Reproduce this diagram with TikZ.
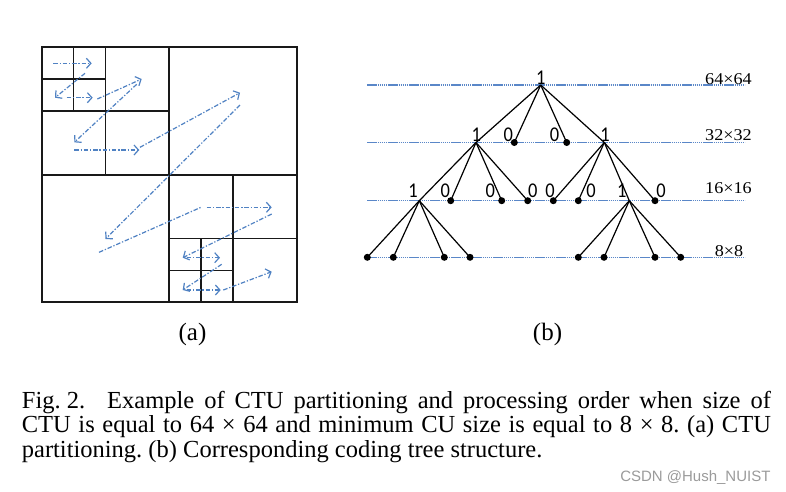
\documentclass[tikz,border=0pt]{standalone}
\usepackage{fontspec}
\setmainfont{Liberation Serif}
\newfontfamily\digfont[FakeStretch=0.88]{Carlito}
\newfontfamily\sizefont[FakeStretch=1.1]{Liberation Serif}
\newfontfamily\wmfont{Liberation Sans}
\usetikzlibrary{arrows.meta}
\definecolor{arrowblue}{RGB}{80,130,195}
\definecolor{lineblue}{RGB}{90,135,200}
\definecolor{wmgray}{RGB}{155,155,155}
\begin{document}
\begin{tikzpicture}[x=1pt,y=-1pt,
  part/.style={line width=1.7pt, black!90},
  orderline/.style={arrowblue, line width=1.2pt, dash pattern=on 4.5pt off 1.8pt on 1.3pt off 1.8pt},
  order/.style={orderline, -{Straight Barb[length=4.5pt,width=10pt,line width=1.2pt]}},
  levelline/.style={lineblue, line width=1.1pt, dash pattern=on 1.5pt off 0.6pt},
  edge/.style={line width=1.2pt, black},
  leaf/.style={circle, fill=black, inner sep=0pt, minimum size=7pt},
  split/.style={coordinate},
  dig/.style={font=\fontsize{21}{21}\digfont, anchor=base, inner sep=0pt},
  sizelab/.style={font=\fontsize{16.5}{16.5}\sizefont, anchor=base, inner sep=0pt},
  sublab/.style={font=\fontsize{25}{25}\selectfont, anchor=base, inner sep=0pt},
  capline/.style={font=\fontsize{24.5}{24.5}\selectfont\frenchspacing, anchor=base west, inner sep=0pt},
  wm/.style={font=\fontsize{15}{15}\wmfont, text=wmgray, anchor=base east, inner sep=0pt}
]
\useasboundingbox (0,0) rectangle (786,491);
\fill[white] (0,0) rectangle (786,491);

% ---------- (a) CTU partitioning ----------
\def\xo{41.7}\def\yo{47.3}\def\sz{255}
\draw[part] (\xo,\yo) rectangle ++(\sz,\sz);
\draw[part] (\xo+\sz/2,\yo) -- ++(0,\sz);
\draw[part] (\xo,\yo+\sz/2) -- ++(\sz,0);
% top-left quadrant split
\draw[part] (\xo+\sz/4,\yo) -- ++(0,\sz/2);
\draw[part] (\xo,\yo+\sz/4) -- ++(\sz/2,0);
\draw[part] (\xo+\sz/8,\yo) -- ++(0,\sz/4);
\draw[part] (\xo,\yo+\sz/8) -- ++(\sz/4,0);
% bottom-right quadrant split
\draw[part] (\xo+3*\sz/4,\yo+\sz/2) -- ++(0,\sz/2);
\draw[part] (\xo+\sz/2,\yo+3*\sz/4) -- ++(\sz/2,0);
\draw[part] (\xo+5*\sz/8,\yo+3*\sz/4) -- ++(0,\sz/4);
\draw[part] (\xo+\sz/2,\yo+7*\sz/8) -- ++(\sz/4,0);

% processing order arrows
\coordinate (a1s) at (53.3,63.3);   \coordinate (a1e) at (91.7,63.3);
\coordinate (a2s) at (85,73.3);     \coordinate (a2e) at (55,97.7);
\coordinate (a3s) at (66.7,97.7);   \coordinate (a3e) at (92.7,97.7);
\coordinate (a4s) at (97.3,99);     \coordinate (a4e) at (141.7,79);
\coordinate (a5s) at (136.7,84.3);  \coordinate (a5e) at (74.3,142.3);
\coordinate (a6s) at (74.3,150);    \coordinate (a6e) at (139.3,150);
\coordinate (a7s) at (140,147.3);   \coordinate (a7e) at (240,92.7);
\coordinate (a8s) at (240,105);     \coordinate (a8e) at (105.5,239);
\coordinate (a9s) at (99,252.3);    \coordinate (a9m) at (201,207.3);
\coordinate (a10s) at (206.7,207.3);\coordinate (a10e) at (271.7,207.3);
\coordinate (a11s) at (271.7,214);  \coordinate (a11e) at (182.7,257.7);
\coordinate (a12s) at (186.7,257.7);\coordinate (a12e) at (220,257.7);
\coordinate (a13s) at (221.7,264.3);\coordinate (a13e) at (182.7,290);
\coordinate (a14s) at (186.7,290);  \coordinate (a14e) at (220.7,290);
\coordinate (a15s) at (223.3,290);  \coordinate (a15e) at (271.7,271.7);
\foreach \p in {1,...,8,11,12,13,14,15}{\draw[order] (a\p s) -- (a\p e);}
\draw[orderline] (a9s) -- (a9m);
\draw[order] (a10s) -- (a10e);

\node[sublab] (la) at (192.5,340.5) {(a)};
\node[sublab] (lb) at (547.5,340.5) {(b)};

% ---------- (b) coding tree ----------
\foreach \y in {85,142.5,200.7,257.3}{\draw[levelline] (367,\y) -- (745,\y);}
\node[sizelab] (s1) at (728.5,84) {64×64};
\node[sizelab] (s2) at (728.5,140.7) {32×32};
\node[sizelab] (s3) at (728.5,193.3) {16×16};
\node[sizelab] (s4) at (729,256.7) {8×8};

\node[split] (r) at (540.7,85) {};
\node[split] (n1) at (476,142.5) {};
\node[leaf]  (n2) at (514.3,142.5) {};
\node[leaf]  (n3) at (566.7,142.5) {};
\node[split] (n4) at (604.3,142.5) {};
\node[split] (m1) at (419.3,200.7) {};
\node[leaf]  (m2) at (450.7,200.7) {};
\node[leaf]  (m3) at (501.7,200.7) {};
\node[leaf]  (m4) at (527.7,200.7) {};
\node[leaf]  (m5) at (553.3,200.7) {};
\node[leaf]  (m6) at (578.3,200.7) {};
\node[split] (m7) at (629.3,200.7) {};
\node[leaf]  (m8) at (655,200.7) {};
\node[leaf]  (k1) at (367.3,257.3) {};
\node[leaf]  (k2) at (393.3,257.3) {};
\node[leaf]  (k3) at (444.3,257.3) {};
\node[leaf]  (k4) at (470,257.3) {};
\node[leaf]  (k5) at (578.3,257.3) {};
\node[leaf]  (k6) at (604,257.3) {};
\node[leaf]  (k7) at (655,257.3) {};
\node[leaf]  (k8) at (680.7,257.3) {};

\foreach \c in {n1,n2,n3,n4}{\draw[edge] (r) -- (\c.center);}
\foreach \c in {m1,m2,m3,m4}{\draw[edge] (n1) -- (\c.center);}
\foreach \c in {m5,m6,m7,m8}{\draw[edge] (n4) -- (\c.center);}
\foreach \c in {k1,k2,k3,k4}{\draw[edge] (m1) -- (\c.center);}
\foreach \c in {k5,k6,k7,k8}{\draw[edge] (m7) -- (\c.center);}

\node[dig] (d0) at (540.8,84) {1};
\node[dig] (d1) at (476.3,141) {1};
\node[dig] (d2) at (508.3,141) {0};
\node[dig] (d3) at (554.5,141) {0};
\node[dig] (d4) at (605,141) {1};
\node[dig] (e1) at (413,197.7) {1};
\node[dig] (e2) at (445.2,197.7) {0};
\node[dig] (e3) at (490.2,197.7) {0};
\node[dig] (e4) at (532.8,197.7) {0};
\node[dig] (e5) at (550,197.7) {0};
\node[dig] (e6) at (591,197.7) {0};
\node[dig] (e7) at (621.7,197.7) {1};
\node[dig] (e8) at (661,197.7) {0};

% ---------- caption ----------
\node[capline] (c1) at (21.7,408.5) {\makebox[749pt][s]{Fig.\hspace{0.25em}2.\hspace{0.9em}Example of CTU partitioning and processing order when size of}};
\node[capline] (c2) at (21.7,432.8) {\makebox[749pt][s]{CTU is equal to 64 × 64 and minimum CU size is equal to 8 × 8. (a) CTU}};
\node[capline] (c3) at (21.7,457) {partitioning. (b) Corresponding coding tree structure.};
\node[wm] (w) at (770.7,481.5) {CSDN @Hush\_NUIST};
\end{tikzpicture}
\end{document}
